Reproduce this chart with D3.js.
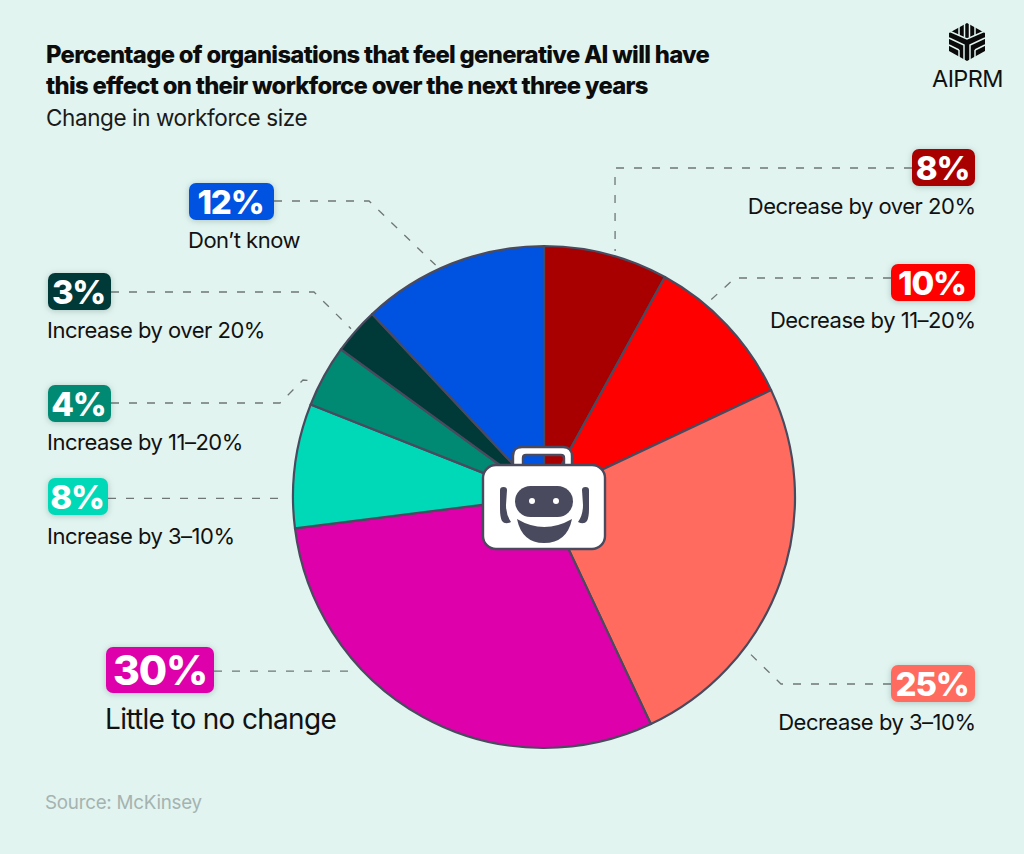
<!DOCTYPE html>
<html>
<head>
<meta charset="utf-8">
<script src="https://cdn.jsdelivr.net/npm/d3@7"></script>
<style>
  html, body { margin: 0; padding: 0; background: #e1f4f0; }
  svg { display: block; font-family: Inter, "Liberation Sans", sans-serif; }
  .badge { filter: drop-shadow(0 1px 3px rgba(60, 90, 85, 0.3)); }
</style>
</head>
<body>
<div id="chart"></div>
<script>
////////////////////////////  Data  ////////////////////////////
const categories = [
  "Decrease by over 20%",
  "Decrease by 11–20%",
  "Decrease by 3–10%",
  "Little to no change",
  "Increase by 3–10%",
  "Increase by 11–20%",
  "Increase by over 20%",
  "Don’t know",
];
const values = [8, 10, 25, 30, 8, 4, 3, 12];
const colors = ["#a80000", "#ff0000", "#ff6b5e", "#de00aa", "#00d9b8", "#008a73", "#003a38", "#0052e0"];

const titleLines = [
  "Percentage of organisations that feel generative AI will have",
  "this effect on their workforce over the next three years",
];
const subtitle = "Change in workforce size";
const source = "Source: McKinsey";

// label placement, same order as categories
// x/y/w/h = badge, side = which edge the text lines up on, bend = elbows of the leader, at = where on the slice it lands
const layout = [
  { x: 912, y: 149, w: 63, h: 37, side: "right", base: 214, bend: [[615, 168]], at: 0.56 },
  { x: 891, y: 264, w: 84, h: 37, side: "right", base: 328, bend: [[735, 278]], at: 0.316 },
  { x: 891, y: 665, w: 84, h: 37, side: "right", base: 730, bend: [[781, 684]], at: 0.693 },
  { x: 106, y: 647, w: 108, h: 46, side: "left", base: 729, bend: [], at: 0.67, big: true },
  { x: 48, y: 478, w: 60, h: 37, side: "left", base: 544, bend: [], at: 0.24 },
  { x: 48, y: 385, w: 63, h: 37, side: "left", base: 450, bend: [[280, 403], [303, 380]], at: 0.37 },
  { x: 48, y: 273, w: 63, h: 37, side: "left", base: 338, bend: [[314, 292]], at: 0.47 },
  { x: 189, y: 183, w: 85, h: 37, side: "left", base: 248, bend: [[369, 201]], at: 0.42 },
];

////////////////////////////  Init  ////////////////////////////
const width = 1024;
const height = 854;
const cx = 544;
const cy = 497;
const radius = 251;
const ink = "#4a4a5e";
const paper = "#e1f4f0";

const svg = d3.select("#chart").append("svg").attr("width", width).attr("height", height);
svg.append("rect").attr("width", width).attr("height", height).attr("fill", paper);

////////////////// title
svg.selectAll(".title").data(titleLines).enter().append("text")
  .attr("class", "title")
  .attr("x", 46)
  .attr("y", (d, i) => 63 + i * 31)
  .attr("font-size", 23.8)
  .attr("font-weight", 800)
  .attr("letter-spacing", -0.69)
  .attr("fill", "#0c0c0c")
  .text((d) => d);

svg.append("text").attr("x", 46).attr("y", 126)
  .attr("font-size", 22.5).attr("letter-spacing", -0.4).attr("fill", "#1a1a1a").text(subtitle);

svg.append("text").attr("x", 45).attr("y", 809)
  .attr("font-size", 18.8).attr("letter-spacing", -0.25).attr("fill", "#a5b3b0").text(source);

////////////////// pie
const pieData = d3.pie().sort(null).value((d) => d)(values);
const arc = d3.arc().innerRadius(0).outerRadius(radius);

const g = svg.append("g").attr("transform", `translate(${cx}, ${cy})`);
g.selectAll("path").data(pieData).enter().append("path")
  .attr("d", arc)
  .attr("fill", (d, i) => colors[i])
  .attr("stroke", ink)
  .attr("stroke-width", 2.2)
  .attr("stroke-linejoin", "round");

////////////////// leaders
const leader = d3.line();
const rimPoint = (d, t) => {
  const a = d.startAngle + (d.endAngle - d.startAngle) * t;
  const r = radius + 5;
  return [cx + r * Math.sin(a), cy - r * Math.cos(a)];
};

const leaderPoints = (d, i) => {
  const l = layout[i];
  const end = rimPoint(d, l.at);
  const first = l.bend.length ? l.bend[0][1] : end[1];
  const start = l.side === "left" ? [l.x + l.w, first] : [l.x, first];
  return [start, ...l.bend, end];
};

svg.selectAll(".leader").data(pieData).enter().append("path")
  .attr("class", "leader")
  .attr("d", (d, i) => leader(leaderPoints(d, i)))
  .attr("fill", "none")
  .attr("stroke", "#6f7776")
  .attr("stroke-width", 1.3)
  .attr("stroke-dasharray", "8 10");

////////////////// badges + labels
const labels = svg.selectAll(".label").data(values).enter().append("g").attr("class", "label");

labels.append("rect")
  .attr("class", "badge")
  .attr("x", (d, i) => layout[i].x)
  .attr("y", (d, i) => layout[i].y)
  .attr("width", (d, i) => layout[i].w)
  .attr("height", (d, i) => layout[i].h)
  .attr("rx", 7)
  .attr("fill", (d, i) => colors[i]);

labels.append("text")
  .attr("x", (d, i) => layout[i].x + layout[i].w / 2 - (layout[i].big ? 0 : 1))
  .attr("y", (d, i) => layout[i].y + layout[i].h / 2 + (layout[i].big ? 15 : 12))
  .attr("text-anchor", "middle")
  .attr("font-size", (d, i) => (layout[i].big ? 41 : 33))
  .attr("font-weight", 800)
  .attr("letter-spacing", -1.2)
  .attr("fill", "#fff")
  .text((d) => `${d}%`);

labels.append("text")
  .attr("x", (d, i) => (layout[i].side === "left" ? layout[i].x - 1 : layout[i].x + layout[i].w + 0.5))
  .attr("y", (d, i) => layout[i].base)
  .attr("text-anchor", (d, i) => (layout[i].side === "left" ? "start" : "end"))
  .attr("font-size", (d, i) => (layout[i].big ? 28 : 22))
  .attr("letter-spacing", (d, i) => (layout[i].big ? -0.7 : -0.5))
  .attr("fill", "#111")
  .text((d, i) => categories[i]);

////////////////// briefcase icon
const icon = svg.append("g").attr("transform", "translate(483, 447)");
icon.append("path")
  .attr("d", "M30 20 V9 Q30 0 39 0 H80 Q89 0 89 9 V20 H81 V11 Q81 8 78 8 H43 Q40 8 40 11 V20 Z")
  .attr("fill", "#fff")
  .attr("stroke", ink)
  .attr("stroke-width", 2.4)
  .attr("stroke-linejoin", "round");
icon.append("rect")
  .attr("x", 0).attr("y", 18).attr("width", 122).attr("height", 84).attr("rx", 13)
  .attr("fill", "#fff")
  .attr("stroke", ink)
  .attr("stroke-width", 2.4);
// head
icon.append("rect").attr("x", 32).attr("y", 39).attr("width", 58).attr("height", 31).attr("rx", 15.5).attr("fill", ink);
icon.selectAll(".eye").data([49, 73]).enter().append("circle")
  .attr("class", "eye").attr("cx", (d) => d).attr("cy", 54).attr("r", 3).attr("fill", "#fff");
// mouth
icon.append("path").attr("d", "M34 72 Q61 88 89 72 Q84 96 61 96 Q39 96 34 72 Z").attr("fill", ink);
// ears
icon.append("path").attr("d", "M17 43 Q17 40 20.5 40 Q24 40 24 43 L23 58 Q23 68 28 75 Q22 78 19 74 Q17 70 17 62 Z").attr("fill", ink);
icon.append("path").attr("d", "M106 43 Q106 40 102.5 40 Q99 40 99 43 L100 58 Q100 68 95 75 Q101 78 104 74 Q106 70 106 62 Z").attr("fill", ink);

////////////////// logo
const logo = svg.append("g").attr("transform", "translate(967, 42)");
logo.append("path")
  .attr("d", "M0 -19 L18 -9 L18 9 L0 19 L-18 9 L-18 -9 Z")
  .attr("fill", "#0a0a0a");
const cuts = [
  "M-18 -11 L0 -3 L18 -11",
  "M-18 -4 L-3 3 V19",
  "M18 -4 L3 3 V19",
  "M-2.5 -19 V-5",
  "M2.5 -19 V-5",
  "M-8 -17 V-7",
  "M8 -17 V-7",
  "M-18 3 L-8 8",
  "M18 3 L8 8",
  "M-8 8 V17",
  "M8 8 V17",
];
logo.selectAll("path.cut").data(cuts).enter().append("path")
  .attr("class", "cut")
  .attr("d", (d) => d)
  .attr("stroke", paper)
  .attr("stroke-width", 1.5)
  .attr("fill", "none");

svg.append("text").attr("x", 967.5).attr("y", 87).attr("text-anchor", "middle")
  .attr("font-size", 23.5).attr("letter-spacing", -0.6).attr("fill", "#111").text("AIPRM");
</script>
</body>
</html>
